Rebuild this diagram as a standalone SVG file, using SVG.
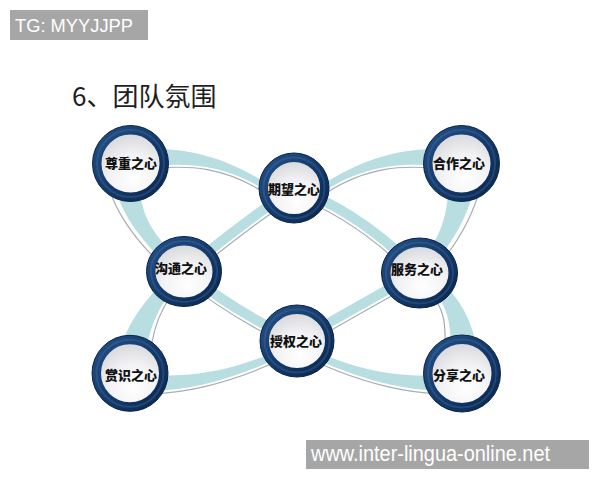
<svg xmlns="http://www.w3.org/2000/svg" width="600" height="480" viewBox="0 0 600 480">
<defs>
<linearGradient id="ringG" x1="0" y1="0" x2="1" y2="1">
<stop offset="0" stop-color="#234f84"/>
<stop offset="0.5" stop-color="#143a6b"/>
<stop offset="1" stop-color="#0b2850"/>
</linearGradient>
<radialGradient id="discG" cx="0.55" cy="0.72" r="0.8">
<stop offset="0" stop-color="#ffffff"/>
<stop offset="0.45" stop-color="#f2f2f4"/>
<stop offset="1" stop-color="#cdced3"/>
</radialGradient>
<style>
.shade{fill:none;stroke:#a6adb4;stroke-width:1.2}
.band{fill:#b8dee2;stroke:none}
.iband{fill:none;stroke:#b8dee2;stroke-width:10}
.node{fill:url(#discG);stroke:url(#ringG);stroke-width:9}
.hl{fill:none;stroke:#4f7bae;stroke-width:2;opacity:0.3}
.edge{fill:none;stroke:#0a2247;stroke-width:1}
.lbl{font-family:"Noto Sans CJK SC","Noto Sans CJK JP",sans-serif;font-size:13px;font-weight:900;fill:#111111;text-anchor:middle}
.wm{font-family:"Liberation Sans",Arial,sans-serif;fill:#ffffff}
</style>
</defs>
<rect width="600" height="480" fill="#ffffff"/>
<g id="watermark-top">
<rect x="10" y="10" width="138" height="30" fill="#a6a6a6"/>
<text class="wm" x="15" y="32" font-size="18.5" textLength="118" lengthAdjust="spacingAndGlyphs">TG: MYYJJPP</text>
</g>
<text id="title" x="72" y="106" font-family="Noto Sans CJK SC, sans-serif" font-size="26" fill="#1e1e1e">6、团队氛围</text>
<g id="connectors">
<path class="shade" d="M131.82,171.35 C181.82,163.35 231.43,162.18 286.43,209.18"/>
<path class="shade" d="M459.18,171.35 C409.18,163.35 359.57,162.18 304.57,209.18"/>
<path class="shade" d="M107.27,159.64 C101.27,196.64 133.67,242.74 177.67,278.74"/>
<path class="shade" d="M148.48,373.86 C150.48,330.86 160.1,301.16 189.1,277.16"/>
<path class="shade" d="M483,163 C483,200 460.17,243.97 426.17,278.97"/>
<path class="shade" d="M443.11,370.93 C448.11,322.93 446.82,300.55 413.82,280.55"/>
<path class="shade" d="M127.75,391.28 C167.75,399.28 232.78,385.32 299.78,350.32"/>
<path class="shade" d="M464.25,391.28 C424.25,399.28 359.22,385.32 292.22,350.32"/>
<path class="shade" d="M298.5,194 Q244.5,231 188.5,277"/>
<path class="shade" d="M289.8,194.2 Q355.8,218.2 414.8,278.2"/>
<path class="shade" d="M180,277.4 Q231,318.4 293,347.4"/>
<path class="shade" d="M422.7,278.5 Q363.7,311.5 300.7,347.5"/>
<path class="band" d="M131.42,168.88 C181.42,160.88 233.05,160.28 288.05,207.28 L291.95,202.72 C236.95,155.72 178.58,143.12 128.58,151.12 Z"/>
<path class="band" d="M459.58,168.88 C409.58,160.88 357.95,160.28 302.95,207.28 L299.05,202.72 C354.05,155.72 412.42,143.12 462.42,151.12 Z"/>
<path class="band" d="M114.18,160.76 C108.18,197.76 136.2,239.64 180.2,275.64 L187.8,266.36 C143.8,230.36 135.82,202.24 141.82,165.24 Z"/>
<path class="band" d="M143.98,373.65 C145.98,330.65 158.83,299.62 187.83,275.62 L180.17,266.38 C151.17,290.38 118.02,329.35 116.02,372.35 Z"/>
<path class="band" d="M477,163 C477,200 457.3,241.18 423.3,276.18 L414.7,267.82 C448.7,232.82 449,200 449,163 Z"/>
<path class="band" d="M449.08,371.55 C454.08,323.55 448.89,297.13 415.89,277.13 L422.11,266.87 C455.11,286.87 481.92,326.45 476.92,374.45 Z"/>
<path class="band" d="M128.33,388.34 C168.33,396.34 231.62,383.1 298.62,348.1 L295.38,341.9 C228.38,376.9 171.67,379.66 131.67,371.66 Z"/>
<path class="band" d="M463.67,388.34 C423.67,396.34 360.38,383.1 293.38,348.1 L296.62,341.9 C363.62,376.9 420.33,379.66 460.33,371.66 Z"/>
<path class="iband" d="M294,188 Q240,225 184,271"/>
<path class="iband" d="M294,188 Q360,212 419,272"/>
<path class="iband" d="M184,271 Q235,312 297,341"/>
<path class="iband" d="M419,272 Q360,305 297,341"/>
</g>
<g id="node-zunzhong">
<ellipse class="node" cx="130.5" cy="163.5" rx="33.5" ry="33.5"/>
<ellipse class="hl" cx="130.5" cy="163.5" rx="33.5" ry="33.5"/>
<ellipse class="edge" cx="130.5" cy="163.5" rx="38" ry="38"/>
<text class="lbl" x="131" y="168">尊重之心</text>
</g>
<g id="node-qiwang">
<ellipse class="node" cx="294" cy="188" rx="30.5" ry="30.5"/>
<ellipse class="hl" cx="294" cy="188" rx="30.5" ry="30.5"/>
<ellipse class="edge" cx="294" cy="188" rx="35" ry="35"/>
<text class="lbl" x="294" y="194">期望之心</text>
</g>
<g id="node-hezuo">
<ellipse class="node" cx="461.5" cy="163.5" rx="33.5" ry="33.5"/>
<ellipse class="hl" cx="461.5" cy="163.5" rx="33.5" ry="33.5"/>
<ellipse class="edge" cx="461.5" cy="163.5" rx="38" ry="38"/>
<text class="lbl" x="459" y="168">合作之心</text>
</g>
<g id="node-goutong">
<ellipse class="node" cx="184" cy="271.5" rx="33" ry="30.5"/>
<ellipse class="hl" cx="184" cy="271.5" rx="33" ry="30.5"/>
<ellipse class="edge" cx="184" cy="271.5" rx="37.5" ry="35"/>
<text class="lbl" x="181" y="272.5">沟通之心</text>
</g>
<g id="node-fuwu">
<ellipse class="node" cx="419.5" cy="273" rx="33.5" ry="30.5"/>
<ellipse class="hl" cx="419.5" cy="273" rx="33.5" ry="30.5"/>
<ellipse class="edge" cx="419.5" cy="273" rx="38" ry="35"/>
<text class="lbl" x="417" y="273.5">服务之心</text>
</g>
<g id="node-shouquan">
<ellipse class="node" cx="297" cy="341" rx="32.5" ry="31.5"/>
<ellipse class="hl" cx="297" cy="341" rx="32.5" ry="31.5"/>
<ellipse class="edge" cx="297" cy="341" rx="37" ry="36"/>
<text class="lbl" x="296" y="346">授权之心</text>
</g>
<g id="node-shangshi">
<ellipse class="node" cx="130" cy="373.3" rx="33.5" ry="33.5"/>
<ellipse class="hl" cx="130" cy="373.3" rx="33.5" ry="33.5"/>
<ellipse class="edge" cx="130" cy="373.3" rx="38" ry="38"/>
<text class="lbl" x="131" y="379.5">赏识之心</text>
</g>
<g id="node-fenxiang">
<ellipse class="node" cx="462" cy="373.5" rx="34" ry="34"/>
<ellipse class="hl" cx="462" cy="373.5" rx="34" ry="34"/>
<ellipse class="edge" cx="462" cy="373.5" rx="38.5" ry="38.5"/>
<text class="lbl" x="459" y="379.5">分享之心</text>
</g>
<g id="watermark-bottom">
<rect x="306" y="440" width="283" height="29" fill="#a6a6a6"/>
<text class="wm" x="311" y="461" font-size="22" textLength="239" lengthAdjust="spacingAndGlyphs">www.inter-lingua-online.net</text>
</g>
</svg>
